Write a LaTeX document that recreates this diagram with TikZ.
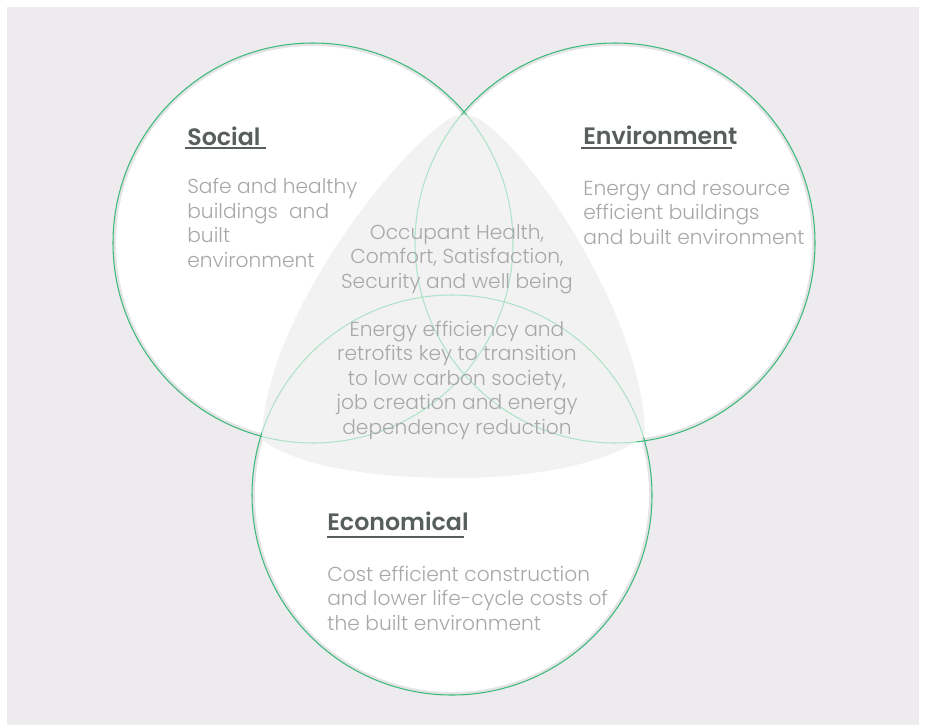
\documentclass[tikz,border=0pt]{standalone}
\usepackage{fontspec}
\setmainfont{Poppins Light}[BoldFont=Poppins SemiBold]
\usepackage{tikz}
\usetikzlibrary{positioning}

\definecolor{bgGray}{HTML}{EDEBEE}
\definecolor{ringGray}{HTML}{E4E3E5}
\definecolor{blobGray}{HTML}{F2F2F2}
\definecolor{strongGreen}{HTML}{3DBA7C}
\definecolor{paleGreen}{HTML}{AEE3C8}
\definecolor{headGray}{HTML}{585D5D}
\definecolor{bodyGray}{HTML}{A8A8A8}

% shaded middle region of the diagram
\def\blobpath{(262,440) .. controls (262,330) and (380,170) .. (442,124)
  .. controls (455,112) and (472,112) .. (486,124)
  .. controls (546,170) and (645,330) .. (645,436)
  .. controls (600,468) and (520,478) .. (455,478)
  .. controls (380,478) and (300,468) .. (262,440) -- cycle}

\begin{document}
\begin{tikzpicture}[x=0.02cm, y=-0.02cm,
  head/.style={font=\fontsize{13.5}{16}\selectfont\bfseries, text=headGray, inner sep=0pt},
  body/.style={font=\fontsize{11.5}{13.9}\selectfont, text=bodyGray, inner sep=0pt},
  rule/.style={draw=headGray, line width=0.8pt},
  ring/.style={draw=strongGreen, line width=0.6pt},
  inner ring/.style={draw=paleGreen, line width=0.6pt}]

\useasboundingbox (0,0) rectangle (925,727);
\fill[bgGray] (7,7) rectangle (919,725);

% Define circle centres
\coordinate (cSoc) at (313,243);
\coordinate (cEnv) at (615,243);
\coordinate (cEco) at (452,495);

% Discs with a soft rim
\foreach \c in {cSoc,cEnv,cEco}
  \fill[ringGray] (\c) circle[radius=200];
\foreach \c in {cSoc,cEnv,cEco}
  \fill[white] (\c) circle[radius=197];
\foreach \c in {cSoc,cEnv,cEco}
  \draw[ring] (\c) circle[radius=200];

% Overlap region, inner arcs show faintly through it
\fill[blobGray] \blobpath;
\begin{scope}
  \clip \blobpath;
  \foreach \c in {cSoc,cEnv,cEco}
    \draw[inner ring] (\c) circle[radius=200];
\end{scope}

% Headings
\node[head, anchor=base west] (hSoc) at (187,145) {Social};
\node[head, anchor=base west] (hEnv) at (583,144) {Environment};
\node[head, anchor=base west] (hEco) at (327,530) {Economical};
\draw[rule] ([shift={(-2,3)}]hSoc.base west) -- ++(81,0);
\draw[rule] ([shift={(-2,4)}]hEnv.base west) -- ++(151,0);
\draw[rule] ([shift={(0,7)}]hEco.base west) -- ++(137,0);

% Texts (anchored at the baseline of their last line)
\node[body, align=left, anchor=base west] (tSoc) at (187,267)
  {Safe and healthy\\buildings\ \ and\\built\\environment};
\node[body, align=left, anchor=base west] (tEnv) at (583,244)
  {Energy and resource\\efficient buildings\\and built environment};
\node[body, align=left, anchor=base west] (tEco) at (327,630)
  {Cost efficient construction\\and lower life-cycle costs of\\the built environment};
\node[body, align=center, anchor=base] (tWell) at (457,288)
  {Occupant Health,\\Comfort, Satisfaction,\\Security and well being};
\node[body, align=center, anchor=base] (tJobs) at (457,434)
  {Energy efficiency and\\retrofits key to transition\\to low carbon society,\\job creation and energy\\dependency reduction};

\end{tikzpicture}
\end{document}
